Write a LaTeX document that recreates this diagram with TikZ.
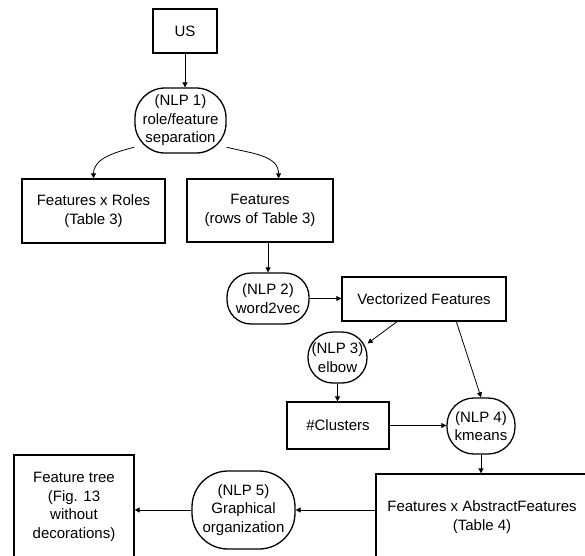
\documentclass[tikz,border=0pt]{standalone}
\usepackage{fontspec}
\setmainfont{Liberation Sans}
\usetikzlibrary{arrows.meta}

\begin{document}
\begin{tikzpicture}[x=1pt,y=-1pt,
  box/.style={draw,line width=1.3pt,inner sep=0pt,align=center,font=\fontsize{15}{18.5}\selectfont},
  nlp/.style={box,rounded corners=#1},
  arr/.style={-{Triangle[length=5pt,width=5pt]},line width=0.8pt}]
  \path[use as bounding box,clip] (0,0) rectangle (585,555);
  \node[box,minimum width=64pt,minimum height=44pt] (us) at (185,31) {US};
  \node[nlp=30pt,minimum width=91pt,minimum height=65pt] (nlp1) at (180.5,120.5) {(NLP 1)\\role/feature\\separation};
  \node[box,minimum width=143pt,minimum height=64pt] (roles) at (93.5,211) {Features x Roles\\(Table 3)};
  \node[box,minimum width=146pt,minimum height=63pt] (features) at (260,210.5) {Features\\(rows of Table 3)};
  \node[nlp=24pt,minimum width=82pt,minimum height=51pt] (nlp2) at (268,298.5) {(NLP 2)\\word2vec};
  \node[box,minimum width=164pt,minimum height=44pt] (vec) at (424,299) {Vectorized Features};
  \node[nlp=25pt,minimum width=59pt,minimum height=51pt] (nlp3) at (337.5,357.5) {(NLP 3)\\elbow};
  \node[box,minimum width=102pt,minimum height=47pt] (clusters) at (338,425.5) {\#Clusters};
  \node[nlp=27pt,minimum width=68pt,minimum height=56pt] (nlp4) at (481,426) {(NLP 4)\\kmeans};
  \node[box,minimum width=212pt,minimum height=86pt] (abstract) at (482,517) {Features x AbstractFeatures\\(Table 4)};
  \node[nlp=36pt,minimum width=103pt,minimum height=78pt] (nlp5) at (243.5,510) {(NLP 5)\\Graphical\\organization};
  \node[box,minimum width=120pt,minimum height=104pt] (tree) at (74,507) {Feature tree\\(Fig. 13\\without\\decorations)};
  \draw[arr] (us.south) -- (us.south |- nlp1.north);
  \draw[arr] (nlp1.210) to[out=195,in=90] (roles.north);
  \draw[arr] (nlp1.-30) to[out=-15,in=90] (features.60);
  \draw[arr] (nlp2.north |- features.south) -- (nlp2.north);
  \draw[arr] (nlp2.east) -- (nlp2.east -| vec.west);
  \draw[arr] (vec.220) -- (nlp3.25);
  \draw[arr] (vec.-35) -- (nlp4.north);
  \draw[arr] (nlp3.south) -- (nlp3.south |- clusters.north);
  \draw[arr] (clusters.east) -- (clusters.east -| nlp4.west);
  \draw[arr] (nlp4.south) -- (nlp4.south |- abstract.north);
  \draw[arr] (abstract.west |- nlp5.east) -- (nlp5.east);
  \draw[arr] (nlp5.west) -- (nlp5.west -| tree.east);
\end{tikzpicture}
\end{document}
